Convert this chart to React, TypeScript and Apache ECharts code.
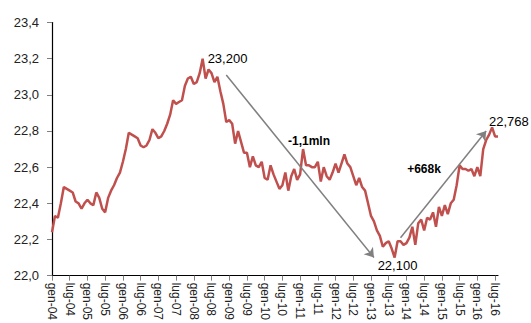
import React, { useEffect, useRef } from "react";
import * as echarts from "echarts";

const years = ["04", "05", "06", "07", "08", "09", "10", "11", "12", "13", "14", "15", "16"];
const monthNames = ["gen", "feb", "mar", "apr", "mag", "giu", "lug", "ago", "set", "ott", "nov", "dic"];
const categories: string[] = [];
years.forEach((y) => monthNames.forEach((m) => categories.push(`${m}-${y}`)));
categories.length = 152; // gen-04 .. ago-16

const employed = [
  22.24, 22.33, 22.32, 22.40, 22.49, 22.48, 22.47, 22.46, 22.41, 22.40, 22.37, 22.40,
  22.42, 22.40, 22.39, 22.46, 22.43, 22.37, 22.35, 22.43, 22.47, 22.50, 22.54, 22.57,
  22.63, 22.70, 22.79, 22.78, 22.77, 22.76, 22.72, 22.71, 22.72, 22.75, 22.81, 22.79,
  22.76, 22.77, 22.80, 22.84, 22.89, 22.97, 22.95, 22.96, 22.97, 23.05, 23.09, 23.10,
  23.06, 23.07, 23.12, 23.20, 23.09, 23.14, 23.12, 23.07, 23.10, 23.02, 22.95, 22.85,
  22.86, 22.84, 22.73, 22.80, 22.74, 22.68, 22.68, 22.60, 22.66, 22.61, 22.60, 22.63,
  22.54, 22.53, 22.61, 22.56, 22.52, 22.48, 22.50, 22.57, 22.47, 22.55, 22.59, 22.53,
  22.56, 22.70, 22.61, 22.61, 22.60, 22.60, 22.63, 22.52, 22.60, 22.55, 22.53, 22.57,
  22.62, 22.57, 22.62, 22.67, 22.62, 22.60, 22.55, 22.50, 22.54, 22.49, 22.47, 22.40,
  22.33, 22.30, 22.25, 22.22, 22.16, 22.18, 22.19, 22.15, 22.10, 22.19, 22.19, 22.17,
  22.18, 22.21, 22.27, 22.17, 22.29, 22.31, 22.25, 22.32, 22.31, 22.35, 22.27, 22.38,
  22.33, 22.39, 22.34, 22.40, 22.42, 22.50, 22.61, 22.59, 22.59, 22.58, 22.59, 22.55,
  22.60, 22.55, 22.70, 22.75, 22.78, 22.82, 22.77, 22.77,
];

// arrows: [startIndex, startValue, endIndex, endValue]
const arrowDown = [59, 23.11, 109, 22.1];
const arrowUp = [118, 22.21, 147, 22.8];

const annotations = [
  { text: "23,200", x: 227.5, y: 58, bold: false, align: "center" },
  { text: "22,100", x: 397.5, y: 265, bold: false, align: "center" },
  { text: "22,768", x: 489, y: 121, bold: false, align: "left" },
  { text: "-1,1mln", x: 309, y: 141, bold: true, align: "center" },
  { text: "+668k", x: 424, y: 169, bold: true, align: "center" },
];

export default function App() {
  const ref = useRef<HTMLDivElement>(null);
  useEffect(() => {
    if (!ref.current) return;
    const chart = echarts.init(ref.current, undefined, { renderer: "svg" });
    const font = "'Liberation Sans', Arial, sans-serif";
    chart.setOption({
      animation: false,
      grid: { left: 52, right: 33, top: 22.5, bottom: 47, containLabel: false },
      xAxis: {
        type: "category",
        data: categories,
        boundaryGap: false,
        axisLine: { lineStyle: { color: "#000", width: 1.2 } },
        axisTick: { interval: 5, length: 5, lineStyle: { color: "#7f7f7f" } },
        axisLabel: {
          interval: 5,
          rotate: -90,
          margin: 7,
          fontSize: 12,
          color: "#222",
          fontFamily: font,
        },
        splitLine: { show: false },
      },
      yAxis: {
        type: "value",
        min: 22,
        max: 23.4,
        interval: 0.2,
        axisLine: { show: true, lineStyle: { color: "#000", width: 1.2 } },
        axisTick: { show: true, length: 5, lineStyle: { color: "#7f7f7f" } },
        axisLabel: {
          margin: 13,
          fontSize: 13,
          color: "#222",
          fontFamily: font,
          formatter: (v: number) => v.toFixed(1).replace(".", ","),
        },
        splitLine: { show: false },
      },
      series: [
        {
          type: "line",
          data: employed,
          symbol: "none",
          lineStyle: { color: "#c0504d", width: 2.5 },
          itemStyle: { color: "#c0504d" },
          markLine: {
            silent: true,
            symbol: ["none", "arrow"],
            symbolSize: 9,
            label: { show: false },
            lineStyle: { color: "#808080", width: 1.5, type: "solid" },
            data: [
              [
                { coord: [arrowDown[0], arrowDown[1]] },
                { coord: [arrowDown[2], arrowDown[3]] },
              ],
              [
                { coord: [arrowUp[0], arrowUp[1]] },
                { coord: [arrowUp[2], arrowUp[3]] },
              ],
            ],
          },
        },
      ],
      graphic: annotations.map((a) => ({
        type: "text",
        x: a.x,
        y: a.y,
        style: {
          text: a.text,
          fill: "#000",
          font: `${a.bold ? "bold " : ""}${a.bold ? 12 : 13}px ${font}`,
          textAlign: a.align,
          textVerticalAlign: "middle",
        },
      })),
    });
    return () => chart.dispose();
  }, []);
  return (
    <div
      ref={ref}
      style={{ position: "fixed", left: 0, top: 0, width: 531, height: 323, background: "#fff" }}
    />
  );
}
